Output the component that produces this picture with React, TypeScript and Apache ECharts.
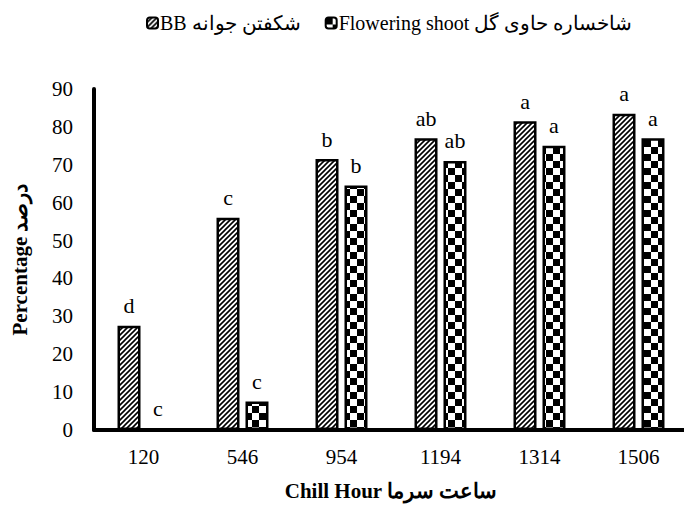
import React, { useEffect, useRef } from "react";
import * as echarts from "echarts";

const categories = ["120", "546", "954", "1194", "1314", "1506"];
const bbValues = [27.5, 56, 71.5, 77, 81.5, 83.5];
const flowerValues = [0, 7.5, 64.5, 71, 75, 77];
const bbLetters = ["d", "c", "b", "ab", "a", "a"];
const flowerLetters = ["c", "c", "b", "ab", "a", "a"];
const yTicks = [0, 10, 20, 30, 40, 50, 60, 70, 80, 90];
const LRM = "\u200E";
const seriesNames = [LRM + "BB شکفتن جوانه", LRM + "Flowering shoot شاخساره حاوی گل"];
const xName = LRM + "Chill Hour ساعت سرما";
const yName = LRM + "Percentage درصد";

const FONT = '"Liberation Serif", "Times New Roman", "DejaVu Serif", serif';

function makeHatch() {
  const s = 5;
  const c = document.createElement("canvas");
  c.width = s;
  c.height = s;
  const ctx = c.getContext("2d")!;
  ctx.fillStyle = "#ffffff";
  ctx.fillRect(0, 0, s, s);
  ctx.strokeStyle = "#000000";
  ctx.lineWidth = 1.6;
  ctx.beginPath();
  ctx.moveTo(-1, s + 1);
  ctx.lineTo(s + 1, -1);
  ctx.moveTo(-2, 2);
  ctx.lineTo(2, -2);
  ctx.moveTo(s - 2, s + 2);
  ctx.lineTo(s + 2, s - 2);
  ctx.stroke();
  return { image: c.toDataURL(), repeat: "repeat", imageWidth: s, imageHeight: s };
}

function makeChecker() {
  const q = 7;
  const c = document.createElement("canvas");
  c.width = q * 2;
  c.height = q * 2;
  const ctx = c.getContext("2d")!;
  ctx.fillStyle = "#ffffff";
  ctx.fillRect(0, 0, q * 2, q * 2);
  ctx.fillStyle = "#000000";
  ctx.fillRect(0, 0, q, q);
  ctx.fillRect(q, q, q, q);
  return { image: c.toDataURL(), repeat: "repeat", imageWidth: q * 2, imageHeight: q * 2 };
}

export default function App() {
  const ref = useRef<HTMLDivElement>(null);
  useEffect(() => {
    if (!ref.current) return;
    const chart = echarts.init(ref.current, null, { renderer: "svg" });
    const hatch = makeHatch();
    const checker = makeChecker();
    const labelStyle = {
      show: true,
      position: "top",
      distance: 9,
      fontFamily: FONT,
      fontSize: 22,
      color: "#000",
    };
    chart.setOption({
      animation: false,
      backgroundColor: "#fff",
      textStyle: { fontFamily: FONT },
      legend: {
        left: 141,
        top: 8,
        itemWidth: 11,
        itemHeight: 11,
        itemGap: 24,
        textStyle: { fontFamily: FONT, fontSize: 20, color: "#000", padding: [0, 0, 0, -3] },
        data: seriesNames,
      },
      grid: {
        left: 94,
        right: -4,
        top: 89,
        bottom: 78,
        containLabel: false,
        outerBoundsMode: "none",
      },
      xAxis: {
        type: "category",
        data: categories,
        axisLine: { show: true, lineStyle: { color: "#000", width: 4 } },
        axisTick: { show: false },
        axisLabel: { fontFamily: FONT, fontSize: 21, color: "#000", margin: 16 },
        name: xName,
        nameLocation: "middle",
        nameGap: 50,
        nameTextStyle: { fontFamily: FONT, fontSize: 21, fontWeight: "bold", color: "#000" },
      },
      yAxis: {
        type: "value",
        min: yTicks[0],
        max: yTicks[yTicks.length - 1],
        interval: 10,
        axisLine: { show: true, lineStyle: { color: "#000", width: 4 } },
        axisTick: { show: false },
        splitLine: { show: false },
        axisLabel: { fontFamily: FONT, fontSize: 21, color: "#000", margin: 21 },
        name: yName,
        nameLocation: "middle",
        nameGap: 64,
        nameTextStyle: { fontFamily: FONT, fontSize: 21, fontWeight: "bold", color: "#000" },
      },
      series: [
        {
          name: seriesNames[0],
          type: "bar",
          data: bbValues,
          barWidth: 23,
          barGap: "26%",
          itemStyle: { color: hatch, borderColor: "#000", borderWidth: 2.5 },
          label: { ...labelStyle, formatter: (p: any) => bbLetters[p.dataIndex] },
        },
        {
          name: seriesNames[1],
          type: "bar",
          data: flowerValues,
          barWidth: 23,
          itemStyle: { color: checker, borderColor: "#000", borderWidth: 2.5 },
          label: { ...labelStyle, formatter: (p: any) => flowerLetters[p.dataIndex] },
        },
      ],
    });
    return () => chart.dispose();
  }, []);
  return (
    <div
      ref={ref}
      style={{ position: "absolute", left: 0, top: 0, width: 684, height: 508 }}
    />
  );
}
